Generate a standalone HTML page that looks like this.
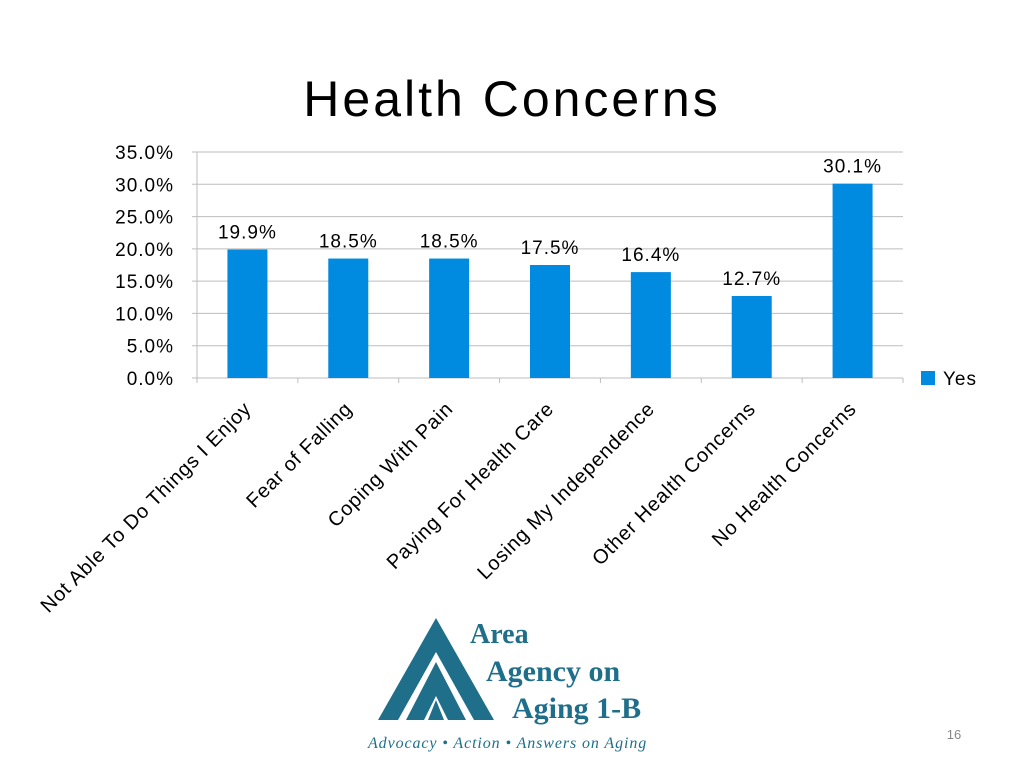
<!DOCTYPE html>
<html><head><meta charset="utf-8"><style>
body{margin:0;width:1024px;height:768px;background:#fff;overflow:hidden;font-family:"Liberation Sans",sans-serif}
svg{position:absolute;left:0;top:0}
</style></head><body>
<svg width="1024" height="768" id="c">
<text x="512" y="116" text-anchor="middle" font-size="50" letter-spacing="3" fill="#000">Health Concerns</text>
<g id="plot"></g>
<rect x="921" y="371" width="14" height="14" fill="#008ae0"/>
<text x="943" y="385" font-size="19" letter-spacing="1" fill="#000">Yes</text>
<g fill="#1f6f8b">
<polygon points="436,618 378,720 398,720 436,652 474,720 494,720"/>
<polygon points="436,662 406,720 424,720 436,696 448,720 466,720"/>
<polygon points="436,700 428,720 444,720"/>
<text x="470" y="643" font-family="Liberation Serif,serif" font-weight="bold" font-size="28">Area</text>
<text x="486" y="681" font-family="Liberation Serif,serif" font-weight="bold" font-size="30">Agency on</text>
<text x="512" y="718" font-family="Liberation Serif,serif" font-weight="bold" font-size="30">Aging 1-B</text>
<text x="368" y="748" font-family="Liberation Serif,serif" font-style="italic" font-size="16" letter-spacing="0.9">Advocacy • Action • Answers on Aging</text>
</g>
<text x="954" y="739" text-anchor="middle" font-size="13" fill="#888">16</text>
</svg>
<script>
const categories=["Not Able To Do Things I Enjoy","Fear of Falling","Coping With Pain","Paying For Health Care","Losing My Independence","Other Health Concerns","No Health Concerns"];
const values=[19.9,18.5,18.5,17.5,16.4,12.7,30.1];
const ticks=[0,5,10,15,20,25,30,35];
const NS="http://www.w3.org/2000/svg";
const g=document.getElementById('plot');
const x0=197,x1=903,y0=378,yTop=152,yMax=35;
const y=v=>y0-(v/yMax)*(y0-yTop);
const bw=(x1-x0)/categories.length;
const xc=i=>x0+bw*(i+0.5);
function mk(t,a){const e=document.createElementNS(NS,t);for(const k in a)e.setAttribute(k,a[k]);g.appendChild(e);return e;}
ticks.forEach(t=>{
 const l=mk('line',{x1:x0-5,x2:x1,y1:y(t),y2:y(t),stroke:'#bdbdbd','stroke-width':1});
 
 
 const tx=mk('text',{x:174,y:y(t)+7,'text-anchor':'end','font-size':19,'letter-spacing':1,fill:'#000'});
 tx.textContent=t.toFixed(1)+'%';
 
 
});
const ax=mk('line',{x1:x0,x2:x0,y1:yTop,y2:y0,stroke:'#bdbdbd'});


for(let i=0;i<=categories.length;i++){
 const tk=mk('line',{x1:x0+bw*i,x2:x0+bw*i,y1:y0,y2:y0+5,stroke:'#bdbdbd'});
 
 
}
categories.forEach((c,i)=>{
 const v=values[i];
 const r=mk('rect',{x:xc(i)-20,y:y(v),width:40,height:y0-y(v),fill:'#008ae0'});
 
 
 const lb=mk('text',{x:xc(i),y:y(v)-11,'text-anchor':'middle','font-size':19,'letter-spacing':1,fill:'#000'});
 lb.textContent=v.toFixed(1)+'%';
 
 
 const cx=xc(i)+5,cy=410;
 const xl=mk('text',{x:cx,y:cy,'text-anchor':'end','font-size':20,'letter-spacing':0.8,fill:'#000',transform:`rotate(-45 ${cx} ${cy})`});
 xl.textContent=c;
 
 
});
</script>
</body></html>
